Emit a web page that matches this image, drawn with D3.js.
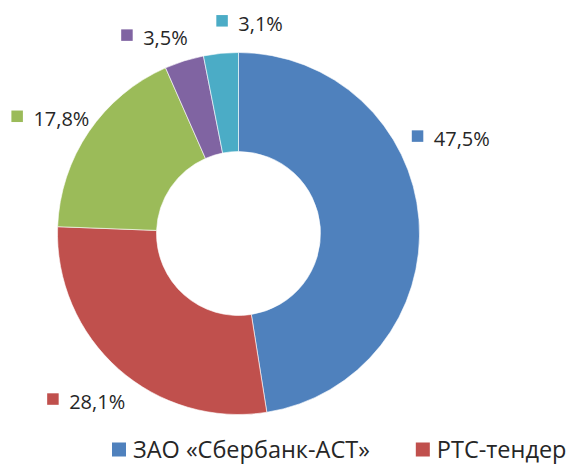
<!DOCTYPE html>
<html>
<head>
<meta charset="utf-8">
<script src="https://cdn.jsdelivr.net/npm/d3@7"></script>
<style>
  html, body { margin: 0; padding: 0; background: #fff; overflow: hidden; }
  svg { display: block; }
</style>
</head>
<body>
<svg id="chart" width="580" height="465"></svg>
<script>
// ---- data ----
const categories = ["ЗАО «Сбербанк-АСТ»", "РТС-тендер", "ММВБ", "ЕЭТП", "Росэлторг"];
const values = [47.5, 28.1, 17.8, 3.5, 3.1];
const labels = ["47,5%", "28,1%", "17,8%", "3,5%", "3,1%"];
const colors = ["#4F81BD", "#C0504D", "#9BBB59", "#8064A2", "#4BACC6"];
const legendItems = [0, 1];

// ---- layout ----
const W = 580, H = 465;
const cx = 238.5, cy = 233.5, R = 181, r0 = 82;
const labelR = 225;
const nudges = [[-12, -77], [-3, 0], [-2, 12], [-16.5, 19], [33, 14]];
const font = "'Open Sans', 'Noto Sans', sans-serif";
const textColor = "#262626";

const svg = d3.select("#chart");
const g = svg.append("g").attr("transform", `translate(${cx},${cy})`);

const pie = d3.pie().sort(null).value(d => d)(values);
const arc = d3.arc().innerRadius(r0).outerRadius(R);

g.selectAll("path.slice").data(pie).join("path")
  .attr("class", "slice")
  .attr("d", arc)
  .attr("fill", (d, i) => colors[i])
  .attr("stroke", "#fff")
  .attr("stroke-width", 0.6);

// data labels
const lab = svg.append("g");
pie.forEach((d, i) => {
  const mid = (d.startAngle + d.endAngle) / 2;
  const px = cx + labelR * Math.sin(mid) + nudges[i][0];
  const py = cy - labelR * Math.cos(mid) + nudges[i][1];
  const grp = lab.append("g");
  const t = grp.append("text")
    .attr("font-family", font)
    .attr("font-size", 20)
    .attr("fill", textColor)
    .text(labels[i]);
  const tw = t.node().getComputedTextLength();
  const gw = 22 + tw;
  const left = px - gw / 2;
  const base = py + 7;
  t.attr("x", left + 22).attr("y", base);
  grp.append("rect")
    .attr("x", left).attr("y", base - 15.5)
    .attr("width", 11.5).attr("height", 11.5)
    .attr("fill", colors[i]);
});

// legend
const leg = svg.append("g");
let lx = 112;
const lBase = 457.5;
legendItems.forEach(i => {
  leg.append("rect")
    .attr("x", lx).attr("y", lBase - 15)
    .attr("width", 14).attr("height", 14)
    .attr("fill", colors[i]);
  const t = leg.append("text")
    .attr("x", lx + 21).attr("y", lBase)
    .attr("font-family", font)
    .attr("font-size", 23.5)
    .attr("fill", textColor)
    .text(categories[i]);
  lx += 21 + t.node().getComputedTextLength() + 46;
});
</script>
</body>
</html>
